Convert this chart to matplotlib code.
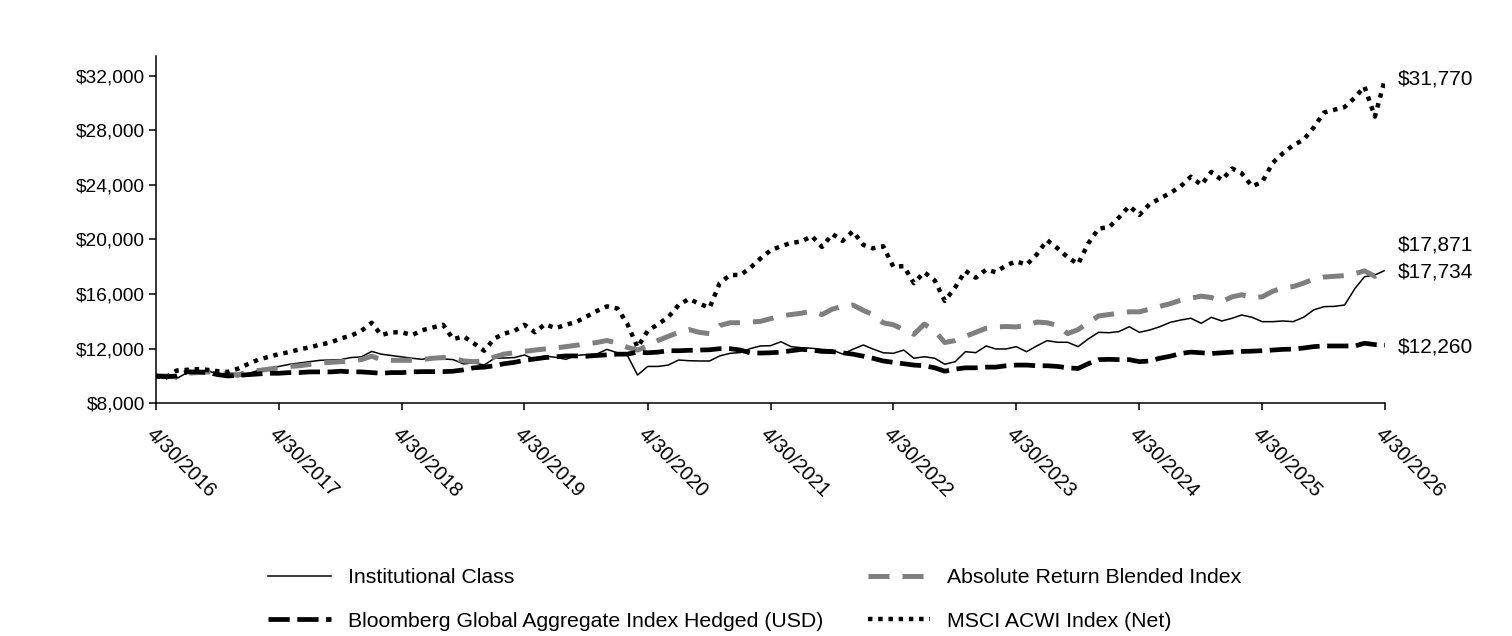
import matplotlib.pyplot as plt
import pandas as pd
from matplotlib.ticker import FuncFormatter

plt.rcParams['font.family'] = ['Liberation Sans', 'DejaVu Sans']

# monthly values, 4/30/2016 .. 4/30/2026
dates = pd.date_range('2016-04-30', '2026-04-30', freq='ME')

institutional = [
    10000, 9950, 9800, 10250, 10300, 10350, 10200, 10000, 9950, 10200,
    10400, 10550, 10700, 10850, 10950, 11050, 11150, 11170, 11200, 11350,
    11400, 11800, 11600, 11500, 11400, 11300, 11220, 11370, 11250, 11200,
    10880, 10970, 10800, 11300, 11320, 11350, 11540, 11220, 11470, 11370,
    11220, 11500, 11570, 11600, 11950, 11700, 11540, 10070, 10700, 10700,
    10800, 11170, 11120, 11100, 11100, 11470, 11660, 11720, 12000, 12200,
    12220, 12510, 12150, 12070, 12030, 11950, 11900, 11610, 11960, 12270,
    11980, 11700, 11660, 11900, 11300, 11410, 11300, 10860, 11050, 11780,
    11710, 12200, 11980, 11980, 12150, 11780, 12200, 12590, 12470, 12470,
    12150, 12710, 13200, 13170, 13250, 13610, 13200, 13370, 13610, 13930,
    14100, 14230, 13860, 14300, 14030, 14230, 14470, 14300, 13980, 13980,
    14030, 13980, 14300, 14840, 15080, 15100, 15200, 16420, 17270, 17400,
    17734]

bloomberg = [
    10000, 9950, 10000, 10300, 10300, 10250, 10100, 10000, 10050, 10100,
    10150, 10200, 10200, 10250, 10250, 10300, 10300, 10300, 10350, 10300,
    10300, 10250, 10200, 10250, 10250, 10300, 10320, 10320, 10320, 10350,
    10450, 10600, 10650, 10750, 10900, 11000, 11150, 11250, 11350, 11400,
    11470, 11470, 11450, 11500, 11550, 11600, 11600, 11750, 11700, 11750,
    11850, 11850, 11880, 11900, 11920, 12000, 12000, 11900, 11700, 11680,
    11700, 11750, 11850, 11950, 11900, 11800, 11780, 11700, 11600, 11450,
    11300, 11100, 11000, 10900, 10800, 10750, 10600, 10350, 10500, 10600,
    10600, 10650, 10650, 10750, 10800, 10800, 10750, 10750, 10700, 10600,
    10550, 10900, 11200, 11220, 11200, 11200, 11050, 11100, 11300, 11450,
    11650, 11750, 11700, 11650, 11700, 11750, 11800, 11820, 11850, 11900,
    11950, 11970, 12050, 12150, 12200, 12200, 12200, 12200, 12400, 12300,
    12260]

absolute_return = [
    10000, 10000, 9950, 10200, 10250, 10300, 10250, 10100, 10100, 10300,
    10400, 10500, 10600, 10700, 10750, 10850, 10950, 11000, 11050, 11100,
    11200, 11450, 11200, 11150, 11150, 11150, 11200, 11300, 11350, 11300,
    11100, 11050, 11100, 11400, 11600, 11700, 11800, 11900, 11980, 12050,
    12150, 12250, 12350, 12450, 12600, 12400, 12100, 11900, 12200, 12600,
    12900, 13200, 13400, 13200, 13100, 13700, 13900, 13900, 13950, 14000,
    14200, 14400, 14500, 14600, 14750, 14500, 14900, 15100, 15200, 14800,
    14500, 13900, 13750, 13400, 13050, 13800, 13300, 12450, 12600, 12900,
    13200, 13500, 13600, 13620, 13600, 13700, 13950, 13900, 13700, 13100,
    13400, 13900, 14400, 14500, 14600, 14700, 14700, 14900, 15100, 15300,
    15550, 15700, 15850, 15750, 15450, 15800, 15950, 15750, 15800, 16200,
    16450, 16550, 16800, 17100, 17250, 17300, 17350, 17500, 17700, 17300,
    17871]

msci_acwi = [
    10000, 9900, 10400, 10450, 10500, 10450, 10350, 10300, 10550, 10900,
    11200, 11400, 11600, 11750, 11950, 12100, 12300, 12450, 12750, 12950,
    13300, 13900, 13000, 13200, 13200, 13000, 13350, 13550, 13750, 12700,
    12900, 12400, 11850, 12750, 13100, 13300, 13750, 13200, 13800, 13500,
    13750, 13950, 14350, 14750, 15100, 14950, 13850, 12100, 13300, 13800,
    14300, 15200, 15650, 15300, 15000, 16800, 17400, 17400, 17900, 18600,
    19200, 19500, 19750, 19850, 20250, 19450, 20400, 19900, 20600, 19600,
    19350, 19500, 18000, 18050, 16800, 17600, 17000, 15500, 16500, 17700,
    17200, 17800, 17600, 18100, 18400, 18150, 18900, 19950, 19350, 18700,
    18200, 19700, 20800, 20900, 21600, 22450, 21800, 22600, 23000, 23400,
    23900, 24600, 24000, 24950, 24350, 25200, 24850, 23900, 24200, 25600,
    26300, 26900, 27300, 28200, 29300, 29500, 29700, 30400, 31200, 29000,
    31770]

fig = plt.figure(figsize=(15.12, 6.36), dpi=100)
ax = fig.add_axes([156 / 1512, 1 - 403.3 / 636, (1385 - 156) / 1512, (403.3 - 56) / 636])

ax.plot(dates, institutional, color='black', lw=1.1, label='Institutional Class')
ax.plot(dates, absolute_return, color='#7f7f7f', lw=3.6, ls=(0, (4.2, 2.6)),
        label='Absolute Return Blended Index')
ax.plot(dates, bloomberg, color='black', lw=3.4, ls=(0, (4.5, 1.6)),
        label='Bloomberg Global Aggregate Index Hedged (USD)')
ax.plot(dates, msci_acwi, color='black', lw=3.2, ls=(0, (1, 1.3)),
        label='MSCI ACWI Index (Net)')

ax.set_xlim(dates[0], dates[-1])
ax.set_ylim(8000, 33440)

year_ticks = dates[::12]
ax.set_xticks(year_ticks)
ax.set_xticklabels([f"{d.month}/{d.day}/{d.year}" for d in year_ticks],
                   rotation=-45, ha='left', va='top', rotation_mode='anchor', fontsize=14.5)
ax.set_yticks(range(8000, 32001, 4000))
ax.yaxis.set_major_formatter(FuncFormatter(lambda v, p: f"${v:,.0f}"))
ax.tick_params(axis='y', labelsize=13.8, length=5, width=1.1, pad=3)
ax.tick_params(axis='x', length=5, width=1.1, pad=10)

for side in ['top', 'right']:
    ax.spines[side].set_visible(False)
for side in ['left', 'bottom']:
    ax.spines[side].set_linewidth(1.1)

# end values
end_labels = [
    (msci_acwi[-1], 0),
    (absolute_return[-1], 17),
    (institutional[-1], -1),
    (bloomberg[-1], -1),
]
for val, dy in end_labels:
    ax.annotate(f"${val:,.0f}", xy=(dates[-1], val), xytext=(9, dy),
                textcoords='offset points', ha='left', va='center',
                fontsize=15, annotation_clip=False)

h, l = ax.get_legend_handles_labels()
order = [0, 2, 1, 3]
fig.legend([h[i] for i in order], [l[i] for i in order], ncol=2,
           loc='center left', bbox_to_anchor=(268 / 1512, 1 - 599.5 / 636),
           frameon=False, fontsize=15.3, handlelength=2.95, handletextpad=0.8,
           columnspacing=2.1, labelspacing=1.15, borderpad=0, borderaxespad=0)

fig.savefig('out.png', dpi=100)
